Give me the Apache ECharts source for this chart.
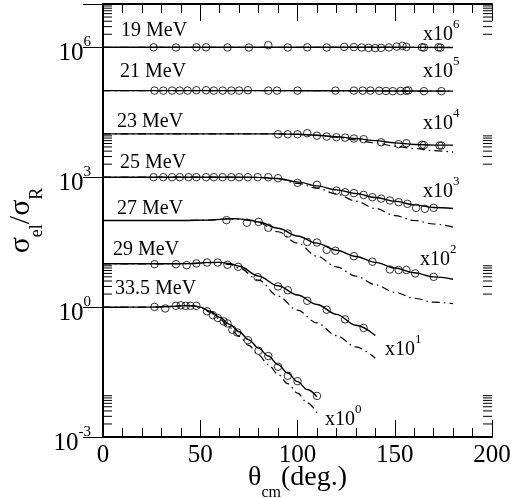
<!DOCTYPE html>
<html><head><meta charset="utf-8">
<script src="https://cdn.jsdelivr.net/npm/echarts@6/dist/echarts.min.js"></script>
<style>html,body{margin:0;padding:0;background:#fff}#c{width:513px;height:498px}</style>
</head><body><div id="c"></div>
<script>
const FONT = "'Liberation Serif','Times New Roman',serif";

// ---- labels / scaling ----
const energyLabels = ['19 MeV', '21 MeV', '23 MeV', '25 MeV', '27 MeV', '29 MeV', '33.5 MeV'];
const scaleExponents = [6, 5, 4, 3, 2, 1, 0];
const xTickLabels = [0, 50, 100, 150, 200];
const yMajorExponents = [-3, 0, 3, 6];
const minorMantissas = [2, 3, 4, 5, 6, 7, 8, 9];

// ---- 19 MeV ----
const ang19 = [26, 37.5, 48, 53, 64, 75, 85, 95, 105, 115, 124, 129, 133, 136.5, 140, 143, 147, 151, 154, 156, 164, 165, 172.5, 173.5];
const ratio19 = [1.0, 0.99, 1.0, 1.0, 0.99, 0.99, 1.12, 0.99, 1.0, 0.99, 1.02, 1.01, 0.99, 0.97, 0.96, 0.97, 0.99, 1.04, 1.08, 1.02, 1.0, 0.99, 1.0, 0.98];
const tAng19 = [0, 30, 60, 90, 120, 150, 180];
const solid19 = [1, 1, 1, 1, 1, 1, 0.99];
const dash19 = [1, 1, 1, 1, 1, 1, 0.99];

// ---- 21 MeV ----
const ang21 = [26.5, 31, 35.5, 39.5, 43.5, 48, 53, 57, 61.5, 66, 70, 74.5, 85, 89.5, 100, 119.5, 129, 133.5, 137.5, 142, 145.5, 149, 153, 156, 157, 165, 174];
const ratio21 = [1, 1, 1, 1, 1, 1.02, 1.02, 1, 1, 1, 1, 1.02, 1, 1, 1, 1, 1, 1, 1, 0.99, 0.98, 0.97, 0.98, 0.99, 1.01, 0.97, 0.97];
const tAng21 = [0, 30, 60, 90, 120, 150, 180];
const solid21 = [1, 1, 1, 1, 0.99, 0.98, 0.97];
const dash21 = [1, 1, 1, 1, 0.99, 0.98, 0.97];

// ---- 23 MeV ----
const ang23 = [90, 95, 100, 105, 110, 115, 120, 124.5, 129, 134, 143, 152, 156, 164, 165, 173, 174];
const ratio23 = [0.98, 0.98, 0.98, 1.04, 0.91, 0.87, 0.84, 0.82, 0.78, 0.755, 0.64, 0.58, 0.61, 0.56, 0.55, 0.54, 0.54];
const tAng23 = [0, 60, 90, 100, 110, 120, 130, 140, 150, 160, 170, 180];
const solid23 = [1, 1, 1, 0.98, 0.93, 0.86, 0.78, 0.7, 0.62, 0.57, 0.55, 0.55];
const dash23 = [1, 1, 1, 0.98, 0.92, 0.84, 0.73, 0.62, 0.52, 0.46, 0.41, 0.38];

// ---- 25 MeV ----
const ang25 = [26, 31, 35.5, 39.5, 44, 48, 53, 57, 61.5, 66, 70, 74.5, 79.5, 85, 90, 100, 110, 120, 124.5, 129, 134, 138.5, 143, 147.5, 152, 156.5, 161, 165.5, 170];
const ratio25 = [1, 1, 1, 1, 1, 1, 1, 1, 1, 1, 1, 1, 1, 1, 0.95, 0.74, 0.67, 0.49, 0.45, 0.43, 0.39, 0.345, 0.32, 0.29, 0.265, 0.243, 0.196, 0.186, 0.196];
const tAng25 = [0, 60, 80, 90, 100, 110, 120, 130, 140, 150, 160, 170, 180];
const solid25 = [1, 1, 0.99, 0.93, 0.78, 0.63, 0.51, 0.42, 0.34, 0.28, 0.23, 0.2, 0.19];
const dash25 = [1, 1, 0.99, 0.93, 0.72, 0.56, 0.41, 0.28, 0.19, 0.13, 0.1, 0.083, 0.07];

// ---- 27 MeV ----
const ang27 = [63.5, 74, 80, 85, 95, 105, 110, 115, 119.5, 129, 138.5, 147.5, 152, 156, 160.5, 170];
const ratio27 = [1.02, 0.89, 0.93, 0.68, 0.5, 0.32, 0.31, 0.21, 0.2, 0.15, 0.112, 0.074, 0.072, 0.072, 0.06, 0.05];
const tAng27 = [0, 40, 55, 60, 65, 70, 75, 80, 90, 100, 110, 120, 130, 140, 150, 160, 170, 180];
const solid27 = [1, 1, 1.02, 1.06, 1.1, 1.09, 1.03, 0.92, 0.66, 0.44, 0.3, 0.205, 0.148, 0.108, 0.08, 0.062, 0.05, 0.044];
const dash27 = [1, 1, 1.02, 1.06, 1.1, 1.08, 1.0, 0.88, 0.55, 0.3, 0.15, 0.085, 0.052, 0.033, 0.022, 0.016, 0.013, 0.012];

// ---- 29 MeV ----
const ang29 = [26.5, 37.5, 43, 48, 53.5, 59, 64, 69.5, 79.5, 90, 95, 105, 115, 124.5, 134];
const ratio29 = [0.98, 0.98, 0.93, 1.02, 1.07, 1.07, 0.95, 0.85, 0.49, 0.30, 0.245, 0.14, 0.087, 0.052, 0.033];
const tAng29 = [0, 30, 45, 55, 60, 65, 70, 80, 90, 100, 110, 120, 130, 140];
const solid29 = [1, 1, 1.01, 1.08, 1.08, 1.02, 0.88, 0.52, 0.31, 0.19, 0.115, 0.068, 0.038, 0.022];
const dash29 = [1, 1, 1.01, 1.07, 1.05, 0.97, 0.8, 0.42, 0.18, 0.085, 0.043, 0.022, 0.012, 0.0066];

// ---- 33.5 MeV ----
const ang33 = [26.5, 32, 37.5, 40, 42.5, 45, 48, 53.5, 56.5, 59, 62, 64, 66.5, 69, 74.5, 80, 85, 90, 95, 100, 110];
const ratio33 = [1.01, 0.93, 1.07, 1.1, 1.07, 1.07, 1.07, 0.80, 0.65, 0.56, 0.47, 0.42, 0.30, 0.26, 0.172, 0.098, 0.074, 0.042, 0.026, 0.0195, 0.0089];
const tAng33 = [0, 25, 35, 42, 47, 50, 55, 60, 65, 70, 75, 80, 85, 90, 95, 100, 105, 110];
const solid33 = [1, 1, 1.03, 1.08, 1.07, 1.0, 0.8, 0.58, 0.4, 0.27, 0.175, 0.113, 0.074, 0.047, 0.03, 0.019, 0.0125, 0.0085];
const dash33 = [1, 1, 1.03, 1.08, 1.06, 0.98, 0.76, 0.53, 0.34, 0.21, 0.13, 0.078, 0.047, 0.028, 0.017, 0.0103, 0.0062, 0.0036];

const groups = [
  [ang19, ratio19, tAng19, solid19, dash19],
  [ang21, ratio21, tAng21, solid21, dash21],
  [ang23, ratio23, tAng23, solid23, dash23],
  [ang25, ratio25, tAng25, solid25, dash25],
  [ang27, ratio27, tAng27, solid27, dash27],
  [ang29, ratio29, tAng29, solid29, dash29],
  [ang33, ratio33, tAng33, solid33, dash33]
];

// label placement (pixels)
const energyLabelPos = [[121, 30.7], [120, 71.5], [117, 121.3], [120, 163], [117, 209], [113, 250], [115, 289]];
const scaleLabelPos = [[423, 34.5], [423, 71.7], [423, 123.8], [423, 191.7], [420, 260], [385, 350], [325, 419.3]];

const minorTickValues = [];
yMajorExponents.forEach(e => minorMantissas.forEach(m => minorTickValues.push(m * Math.pow(10, e))));

const series = [];
groups.forEach((g, i) => {
  const f = Math.pow(10, scaleExponents[i]);
  const [ang, ratio, tAng, solid, dash] = g;
  series.push({
    type: 'line', name: energyLabels[i] + ' solid', symbol: 'none', smooth: 0.35, smoothMonotone: 'x',
    data: tAng.map((a, k) => [a, solid[k] * f]),
    lineStyle: { color: '#000', width: 1.4 }, z: 3
  });
  series.push({
    type: 'line', name: energyLabels[i] + ' dashdot', symbol: 'none', smooth: 0.35, smoothMonotone: 'x',
    data: tAng.map((a, k) => [a, dash[k] * f]),
    lineStyle: { color: '#000', width: 1.2, type: [8, 4, 1.5, 4] }, z: 2
  });
  series.push({
    type: 'scatter', name: energyLabels[i], symbol: 'circle', symbolSize: 7.5,
    data: ang.map((a, k) => [a, ratio[k] * f]),
    itemStyle: { color: 'rgba(0,0,0,0)', borderColor: '#000', borderWidth: 1 }, z: 4
  });
});

series.push({
  type: 'custom', silent: true, z: 5,
  data: minorTickValues.map(v => [0, v]),
  renderItem: (params, api) => {
    const v = api.value(1);
    const pl = api.coord([0, v]);
    const pr = api.coord([200, v]);
    return { type: 'group', children: [
      { type: 'line', shape: { x1: pl[0], y1: pl[1], x2: pl[0] + 9, y2: pl[1] }, style: { stroke: '#000', lineWidth: 1 } },
      { type: 'line', shape: { x1: pr[0] - 9, y1: pr[1], x2: pr[0], y2: pr[1] }, style: { stroke: '#000', lineWidth: 1 } }
    ] };
  }
});

const graphics = [];
energyLabels.forEach((t, i) => {
  graphics.push({
    type: 'text', x: energyLabelPos[i][0], y: energyLabelPos[i][1], z: 10,
    style: { text: t, fill: '#000', fontSize: 20, fontFamily: FONT, align: 'left', verticalAlign: 'middle', textAlign: 'left', textVerticalAlign: 'middle' }
  });
  graphics.push({
    type: 'text', x: scaleLabelPos[i][0], y: scaleLabelPos[i][1], z: 10,
    style: {
      text: '{m|x10}{s|' + scaleExponents[i] + '}', fill: '#000', align: 'left', verticalAlign: 'middle', textAlign: 'left', textVerticalAlign: 'middle',
      rich: {
        m: { fontSize: 20, lineHeight: 33, fontFamily: FONT, fill: '#000' },
        s: { fontSize: 13, lineHeight: 13, verticalAlign: 'top', fontFamily: FONT, fill: '#000' }
      }
    }
  });
});

const axisLineStyle = { lineStyle: { color: '#000', width: 2 } };

const option = {
  animation: false,
  backgroundColor: '#fff',
  grid: { left: 103, right: 21, top: 4, bottom: 61, containLabel: false, outerBoundsMode: 'none' },
  xAxis: [
    {
      type: 'value', min: 0, max: 200, interval: 50, position: 'bottom',
      axisLine: axisLineStyle,
      axisTick: { inside: true, length: 17, lineStyle: { color: '#000', width: 1 } },
      minorTick: { show: true, splitNumber: 5, length: 9, lineStyle: { color: '#000', width: 1 } },
      splitLine: { show: false },
      axisLabel: { margin: 6, fontSize: 25, fontFamily: FONT, color: '#000', showMinLabel: true, showMaxLabel: true,
        formatter: v => xTickLabels.indexOf(v) >= 0 ? String(v) : '' },
      name: '{m|θ}{sub|cm}{m|(deg.)}', nameLocation: 'middle', nameGap: 41, nameMoveOverlap: false,
      nameTextStyle: { align: 'center', verticalAlign: 'middle', color: '#000',
        rich: {
          m: { fontSize: 28, lineHeight: 45, fontFamily: FONT, color: '#000' },
          sub: { fontSize: 16, lineHeight: 16, verticalAlign: 'bottom', fontFamily: FONT, color: '#000' }
        } }
    },
    {
      type: 'value', min: 0, max: 200, interval: 50, position: 'top',
      axisLine: axisLineStyle,
      axisTick: { inside: true, length: 17, lineStyle: { color: '#000', width: 1 } },
      minorTick: { show: true, splitNumber: 5, length: 9, lineStyle: { color: '#000', width: 1 } },
      splitLine: { show: false }, axisLabel: { show: false }
    }
  ],
  yAxis: [
    {
      type: 'log', logBase: 10, min: 1e-3, max: 1e7, interval: 3, position: 'left',
      axisLine: axisLineStyle,
      axisTick: { inside: true, length: 20, lineStyle: { color: '#000', width: 1 } },
      minorTick: { show: false }, splitLine: { show: false },
      axisLabel: {
        margin: 12, color: '#000', padding: [13, 0, 0, 0],
        formatter: v => {
          const e = Math.round(Math.log10(v));
          return yMajorExponents.indexOf(e) >= 0 ? '{b|10}{s|' + e + '}' : '';
        },
        rich: {
          b: { fontSize: 25, lineHeight: 38, fontFamily: FONT, color: '#000' },
          s: { fontSize: 15, lineHeight: 15, verticalAlign: 'top', fontFamily: FONT, color: '#000' }
        }
      },
      name: '{g|σ}{sub|el}{g|/σ}{sub|R}', nameLocation: 'middle', nameRotate: 90, nameGap: 82, nameMoveOverlap: false,
      nameTextStyle: { align: 'center', verticalAlign: 'middle', color: '#000',
        rich: {
          g: { fontSize: 30, lineHeight: 50, fontFamily: FONT, color: '#000' },
          sub: { fontSize: 18, lineHeight: 18, verticalAlign: 'bottom', fontFamily: FONT, color: '#000' }
        } }
    },
    {
      type: 'log', logBase: 10, min: 1e-3, max: 1e7, interval: 3, position: 'right',
      axisLine: axisLineStyle,
      axisTick: { inside: true, length: 20, lineStyle: { color: '#000', width: 1 } },
      minorTick: { show: false }, splitLine: { show: false }, axisLabel: { show: false }
    }
  ],
  series: series,
  graphic: graphics
};

const chart = echarts.init(document.getElementById('c'), null, { renderer: 'canvas' });
chart.setOption(option);
</script></body></html>
